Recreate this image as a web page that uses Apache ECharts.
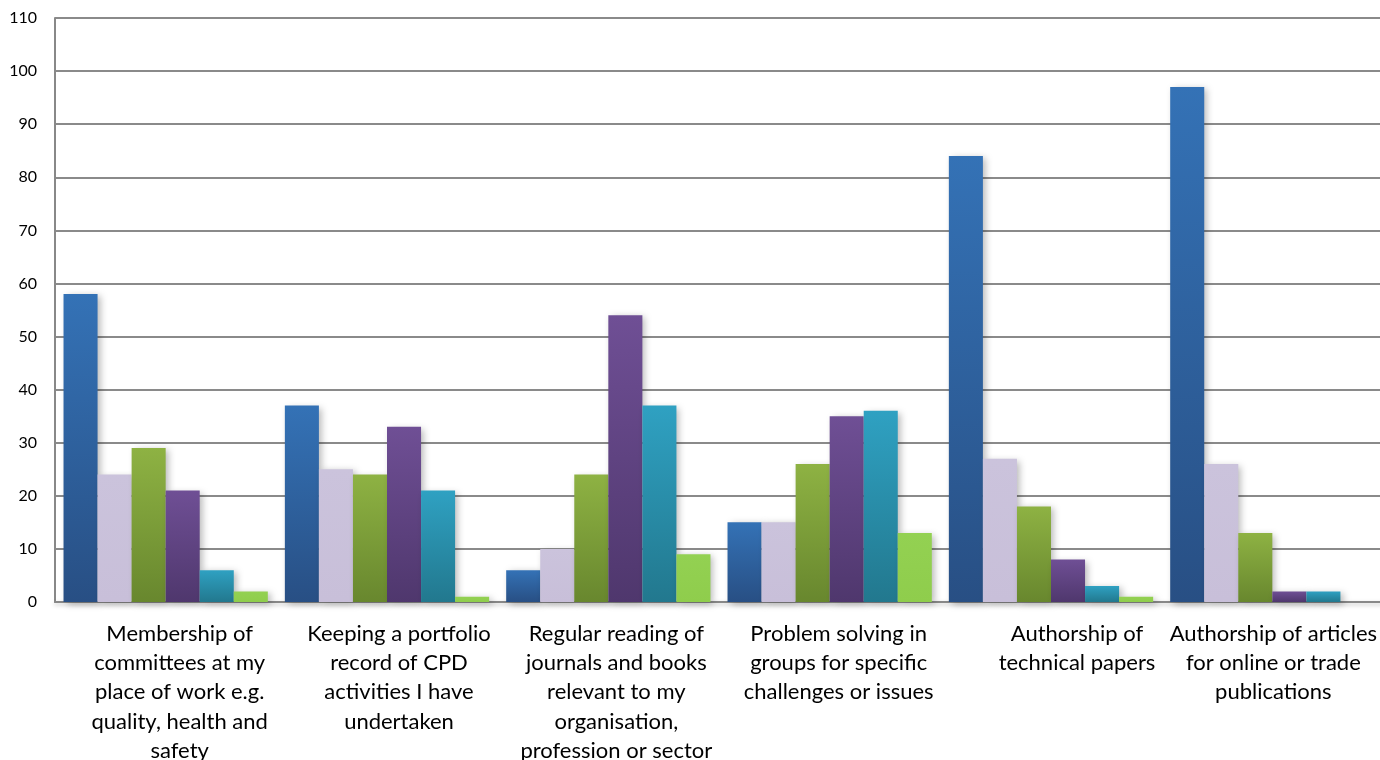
<!DOCTYPE html>
<html>
<head>
<meta charset="utf-8">
<script src="https://cdn.jsdelivr.net/npm/echarts@6/dist/echarts.min.js"></script>
<style>
  html, body { margin: 0; padding: 0; background: #fff; }
  #chart { width: 1380px; height: 760px; }
</style>
</head>
<body>
<div id="chart"></div>
<script>
// Activity categories along the x axis
const categories = [
  'Membership of\ncommittees at my\nplace of work e.g.\nquality, health and\nsafety',
  'Keeping a portfolio\nrecord of CPD\nactivities I have\nundertaken',
  'Regular reading of\njournals and books\nrelevant to my\norganisation,\nprofession or sector',
  'Problem solving in\ngroups for specific\nchallenges or issues',
  'Authorship of\ntechnical papers',
  'Authorship of articles\nfor online or trade\npublications'
];
// Horizontal nudge for each category label (px)
const labelShift = [14, 12, 8, 9, 26, 1];

// Six response series, one value per category
const seriesA = [58, 37, 6, 15, 84, 97];
const seriesB = [24, 25, 10, 15, 27, 26];
const seriesC = [29, 24, 24, 26, 18, 13];
const seriesD = [21, 33, 54, 35, 8, 2];
const seriesE = [6, 21, 37, 36, 3, 2];
const seriesF = [2, 1, 9, 13, 1, 0];

const yTicks = { min: 0, max: 110, interval: 10 };

function grad(top, bottom) {
  return new echarts.graphic.LinearGradient(0, 0, 0, 1, [
    { offset: 0, color: top },
    { offset: 1, color: bottom }
  ]);
}

const palette = [
  grad('#3472b6', '#284f84'),
  grad('#cbc3dc', '#c8bfd9'),
  grad('#8eb243', '#68872e'),
  grad('#6f4f95', '#4f376d'),
  grad('#2fa1c2', '#22788e'),
  grad('#93d152', '#8fcd4c')
];

const values = [seriesA, seriesB, seriesC, seriesD, seriesE, seriesF];

const chart = echarts.init(document.getElementById('chart'), null, { renderer: 'canvas' });

chart.setOption({
  animation: false,
  backgroundColor: '#ffffff',
  grid: { left: 55, right: -3, top: 18, bottom: 158, containLabel: false, outerBoundsMode: 'none' },
  xAxis: {
    type: 'category',
    data: categories.map((c, i) => ({
      value: c,
      textStyle: { padding: [0, 0, 0, labelShift[i] * 2] }
    })),
    axisLine: { show: true, lineStyle: { color: '#888888', width: 2, shadowColor: 'rgba(0,0,0,0.25)', shadowBlur: 4, shadowOffsetY: 2 } },
    axisTick: { show: false },
    axisLabel: {
      interval: 0,
      margin: 17,
      color: '#000000',
      fontFamily: 'Lato, "Open Sans", sans-serif',
      fontSize: 22,
      lineHeight: 29.3,
      align: 'center'
    }
  },
  yAxis: {
    type: 'value',
    min: yTicks.min,
    max: yTicks.max,
    interval: yTicks.interval,
    axisLine: { show: true, lineStyle: { color: '#888888', width: 2 } },
    axisTick: { show: false },
    axisLabel: {
      margin: 18,
      color: '#000000',
      fontFamily: 'Lato, "Open Sans", sans-serif',
      fontSize: 16
    },
    splitLine: { show: true, lineStyle: { color: '#8a8a8a', width: 2 } }
  },
  series: values.map((v, i) => ({
    type: 'bar',
    data: v,
    barGap: '0%',
    barCategoryGap: '7.7%',
    itemStyle: {
      color: palette[i],
      shadowColor: 'rgba(0,0,0,0.28)',
      shadowBlur: 7,
      shadowOffsetX: 3,
      shadowOffsetY: 2
    }
  }))
});
</script>
</body>
</html>
